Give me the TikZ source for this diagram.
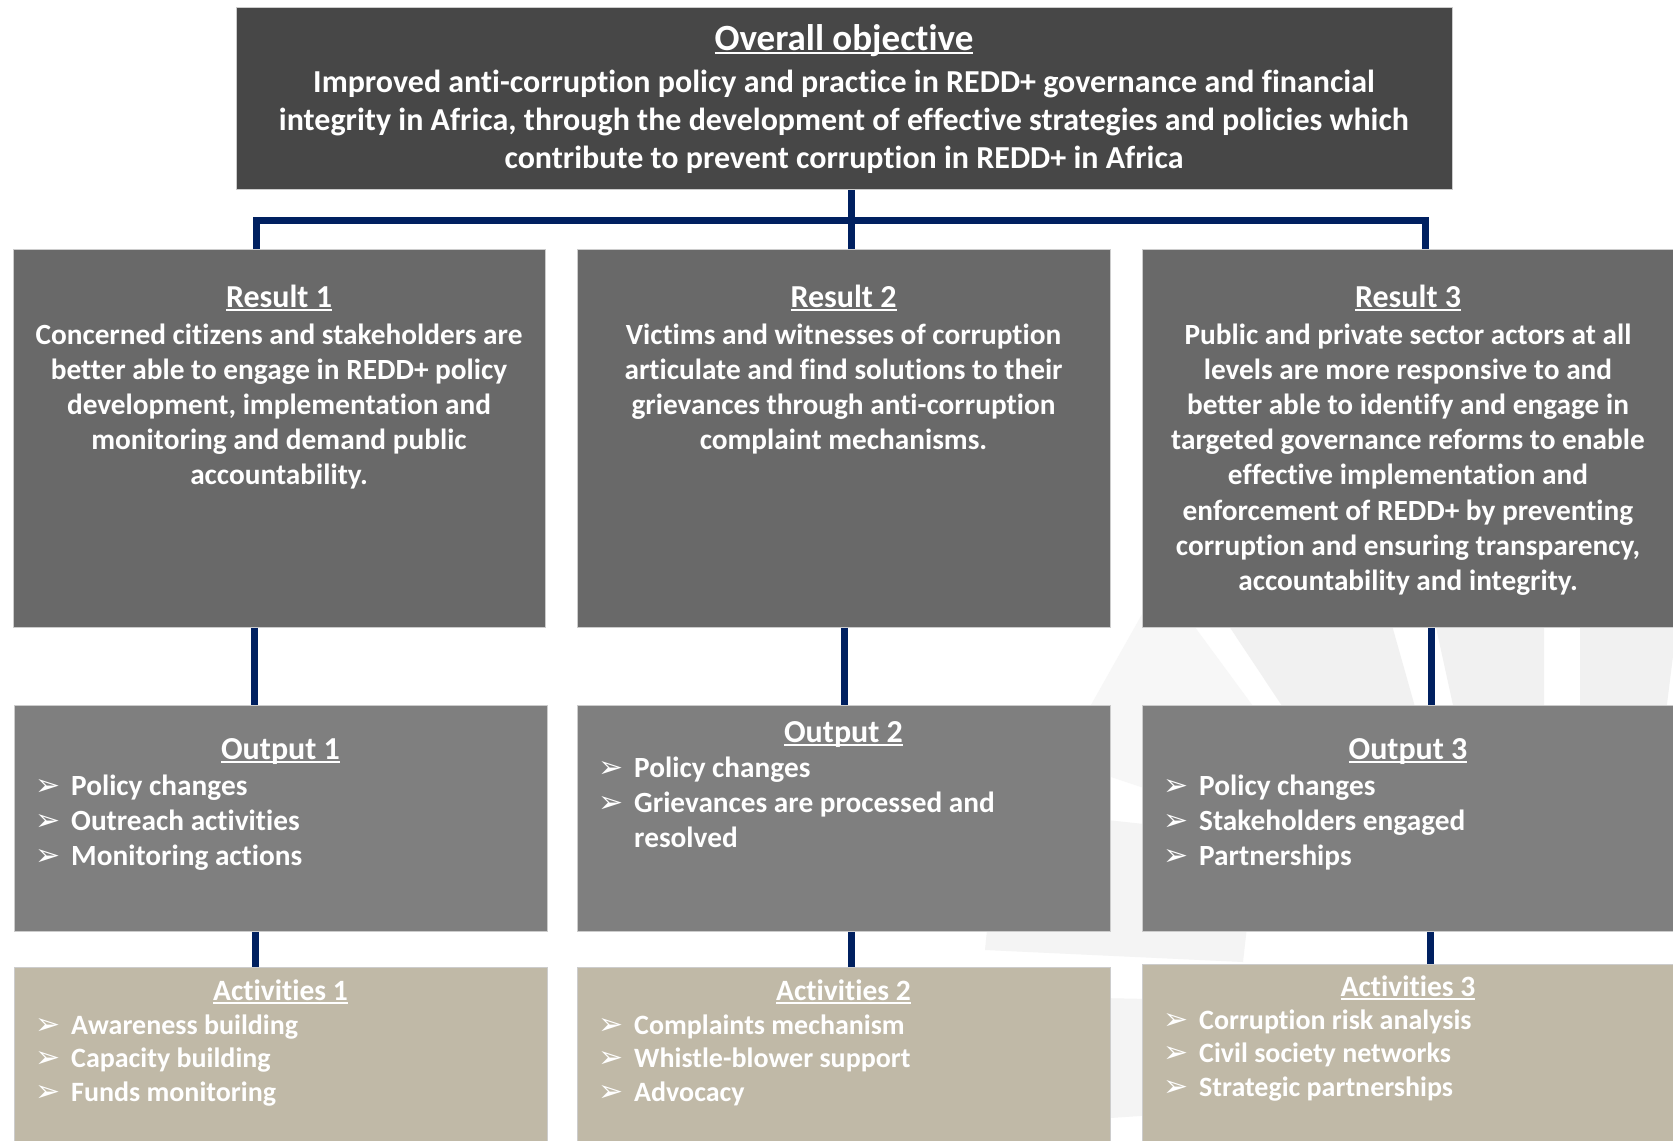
\documentclass[tikz,border=0pt]{standalone}
\usepackage{fontspec}
\setmainfont{Carlito}[RawFeature=-liga]
\newfontfamily\dingfont{DejaVu Sans}

\definecolor{topgray}{HTML}{474747}
\definecolor{resgray}{HTML}{696969}
\definecolor{outgray}{HTML}{7F7F7F}
\definecolor{actbeige}{HTML}{C0B9A7}
\definecolor{navy}{HTML}{002060}
\definecolor{wmlight}{HTML}{F7F7F7}
\definecolor{wmmid}{HTML}{F1F1F1}
\definecolor{wmsoft}{HTML}{F4F4F4}

% underlined heading with the rule just under the baseline
\newsavebox\ulbox
\newcommand\ult[1]{\sbox\ulbox{#1}\rlap{\rule[-3.5bp]{\wd\ulbox}{2bp}}\usebox\ulbox}
% arrowhead bullet followed by its text
\newcommand\bul{\makebox[36bp][l]{\dingfont\fontsize{30bp}{30bp}\selectfont ➢}}
\newcommand\topfont{\bfseries\fontsize{32bp}{38.4bp}\selectfont}
\newcommand\bodyfont{\bfseries\fontsize{29.3bp}{35.2bp}\selectfont}
\newcommand\headfont{\bfseries\fontsize{32bp}{35.2bp}\selectfont}
\newcommand\actfont{\bfseries\fontsize{28bp}{33.6bp}\selectfont}
\newcommand\acthead{\bfseries\fontsize{29.5bp}{33.6bp}\selectfont}

\tikzset{
  box/.style={anchor=north west, inner sep=0, draw=black!20, line width=0.8bp},
  topbox/.style={box, fill=topgray},
  resbox/.style={box, fill=resgray},
  outbox/.style={box, fill=outgray},
  actbox/.style={box, fill=actbeige},
  conn/.style={draw=navy, line width=7bp, line join=miter},
  txt/.style={inner sep=0, text=white, anchor=base},
  lst/.style={inner sep=0, text=white, anchor=base west},
}

\begin{document}
\begin{tikzpicture}[x=1bp, y=-1bp]
\useasboundingbox (0,0) rectangle (1673,1140);
\fill[white] (0,0) rectangle (1673,1140);

% faint logo in the background
\fill[wmlight] (1150,600) -- (1175,600) -- (1300,770) -- (1180,800) -- (1060,760) -- cycle;
\fill[wmmid] (1205,590) -- (1382,590) -- (1430,760) -- (1318,760) -- cycle;
\fill[wmmid] (1430,600) -- (1544,600) -- (1544,760) -- (1465,760) -- cycle;
\fill[wmmid] (1580,600) -- (1680,600) -- (1660,760) -- (1580,760) -- cycle;
\fill[wmsoft] (1060,815) -- (1200,830) -- (1250,900) -- (1243,962) -- (985,950) -- (990,900) -- cycle;
\fill[wmsoft] (1050,997) -- (1200,1000) -- (1200,1112) -- (1050,1122) -- cycle;

% boxes
\node[topbox, minimum width=1216bp, minimum height=182bp] (top) at (236,7) {};
\node[resbox, minimum width=532bp, minimum height=378bp] (r1) at (13,249) {};
\node[resbox, minimum width=533bp, minimum height=378bp] (r2) at (577,249) {};
\node[resbox, minimum width=533bp, minimum height=378bp] (r3) at (1142,249) {};
\node[outbox, minimum width=533bp, minimum height=226bp] (o1) at (14,705) {};
\node[outbox, minimum width=533bp, minimum height=226bp] (o2) at (577,705) {};
\node[outbox, minimum width=533bp, minimum height=226bp] (o3) at (1142,705) {};
\node[actbox, minimum width=533bp, minimum height=180bp] (a1) at (14,967) {};
\node[actbox, minimum width=533bp, minimum height=180bp] (a2) at (577,967) {};
\node[actbox, minimum width=533bp, minimum height=180bp] (a3) at (1142,964) {};

% connector columns
\coordinate (busL) at (256,220);
\coordinate (busM) at (851,220);
\coordinate (busR) at (1425,220);
\coordinate (c1) at (254,0);
\coordinate (c2) at (844,0);
\coordinate (c3) at (1431,0);
\coordinate (d1) at (255,0);
\coordinate (d2) at (851,0);
\coordinate (d3) at (1430,0);

\draw[conn] (top.south -| busM) -- (busM);
\draw[conn] (r1.north -| busL) -- (busL) -- (busR) -- (r3.north -| busR);
\draw[conn] (r2.north -| busM) -- (busM);
\draw[conn] (r1.south -| c1) -- (o1.north -| c1);
\draw[conn] (r2.south -| c2) -- (o2.north -| c2);
\draw[conn] (r3.south -| c3) -- (o3.north -| c3);
\draw[conn] (o1.south -| d1) -- (a1.north -| d1);
\draw[conn] (o2.south -| d2) -- (a2.north -| d2);
\draw[conn] (o3.south -| d3) -- (a3.north -| d3);

% overall objective
\node[txt] (topT) at (844,50.5) {\bfseries\fontsize{37bp}{38bp}\selectfont\ult{Overall objective}};
\node[txt] (topB) at (844,92) {\parbox[t]{1200bp}{\centering\topfont
  Improved anti-corruption policy and practice in REDD+ governance and financial\\
  integrity in Africa, through the development of effective strategies and policies which\\
  contribute to prevent corruption in REDD+ in Africa}};

% results
\node[txt] (r1T) at (279,307.7) {\headfont\ult{Result 1}};
\node[txt] (r1B) at (279,344) {\parbox[t]{520bp}{\centering\bodyfont
  Concerned citizens and stakeholders are\\
  better able to engage in REDD+ policy\\
  development, implementation and\\
  monitoring and demand public\\
  accountability.}};
\node[txt] (r2T) at (843.5,307.7) {\headfont\ult{Result 2}};
\node[txt] (r2B) at (843.5,344) {\parbox[t]{520bp}{\centering\bodyfont
  Victims and witnesses of corruption\\
  articulate and find solutions to their\\
  grievances through anti-corruption\\
  complaint mechanisms.}};
\node[txt] (r3T) at (1408,307.7) {\headfont\ult{Result 3}};
\node[txt] (r3B) at (1408,344) {\parbox[t]{520bp}{\centering\bodyfont
  Public and private sector actors at all\\
  levels are more responsive to and\\
  better able to identify and engage in\\
  targeted governance reforms to enable\\
  effective implementation and\\
  enforcement of REDD+ by preventing\\
  corruption and ensuring transparency,\\
  accountability and integrity.}};

% outputs
\node[txt] (o1T) at (280.5,759) {\headfont\ult{Output 1}};
\node[lst] (o1B) at (35,795) {\parbox[t]{480bp}{\raggedright\bodyfont
  \bul Policy changes\\
  \bul Outreach activities\\
  \bul Monitoring actions}};
\node[txt] (o2T) at (843.5,742) {\headfont\ult{Output 2}};
\node[lst] (o2B) at (598,777) {\parbox[t]{480bp}{\raggedright\bodyfont
  \bul Policy changes\\
  \bul Grievances are processed and\\
  \hspace*{36bp}resolved}};
\node[txt] (o3T) at (1408,759) {\headfont\ult{Output 3}};
\node[lst] (o3B) at (1163,795) {\parbox[t]{480bp}{\raggedright\bodyfont
  \bul Policy changes\\
  \bul Stakeholders engaged\\
  \bul Partnerships}};

% activities
\node[txt] (a1T) at (280.5,1000) {\acthead\ult{Activities 1}};
\node[lst] (a1B) at (35,1034) {\parbox[t]{480bp}{\raggedright\actfont
  \bul Awareness building\\
  \bul Capacity building\\
  \bul Funds monitoring}};
\node[txt] (a2T) at (843.5,1000) {\acthead\ult{Activities 2}};
\node[lst] (a2B) at (598,1034) {\parbox[t]{480bp}{\raggedright\actfont
  \bul Complaints mechanism\\
  \bul Whistle-blower support\\
  \bul Advocacy}};
\node[txt] (a3T) at (1408,996.5) {\acthead\ult{Activities 3}};
\node[lst] (a3B) at (1163,1029) {\parbox[t]{480bp}{\raggedright\actfont
  \bul Corruption risk analysis\\
  \bul Civil society networks\\
  \bul Strategic partnerships}};
\end{tikzpicture}
\end{document}
